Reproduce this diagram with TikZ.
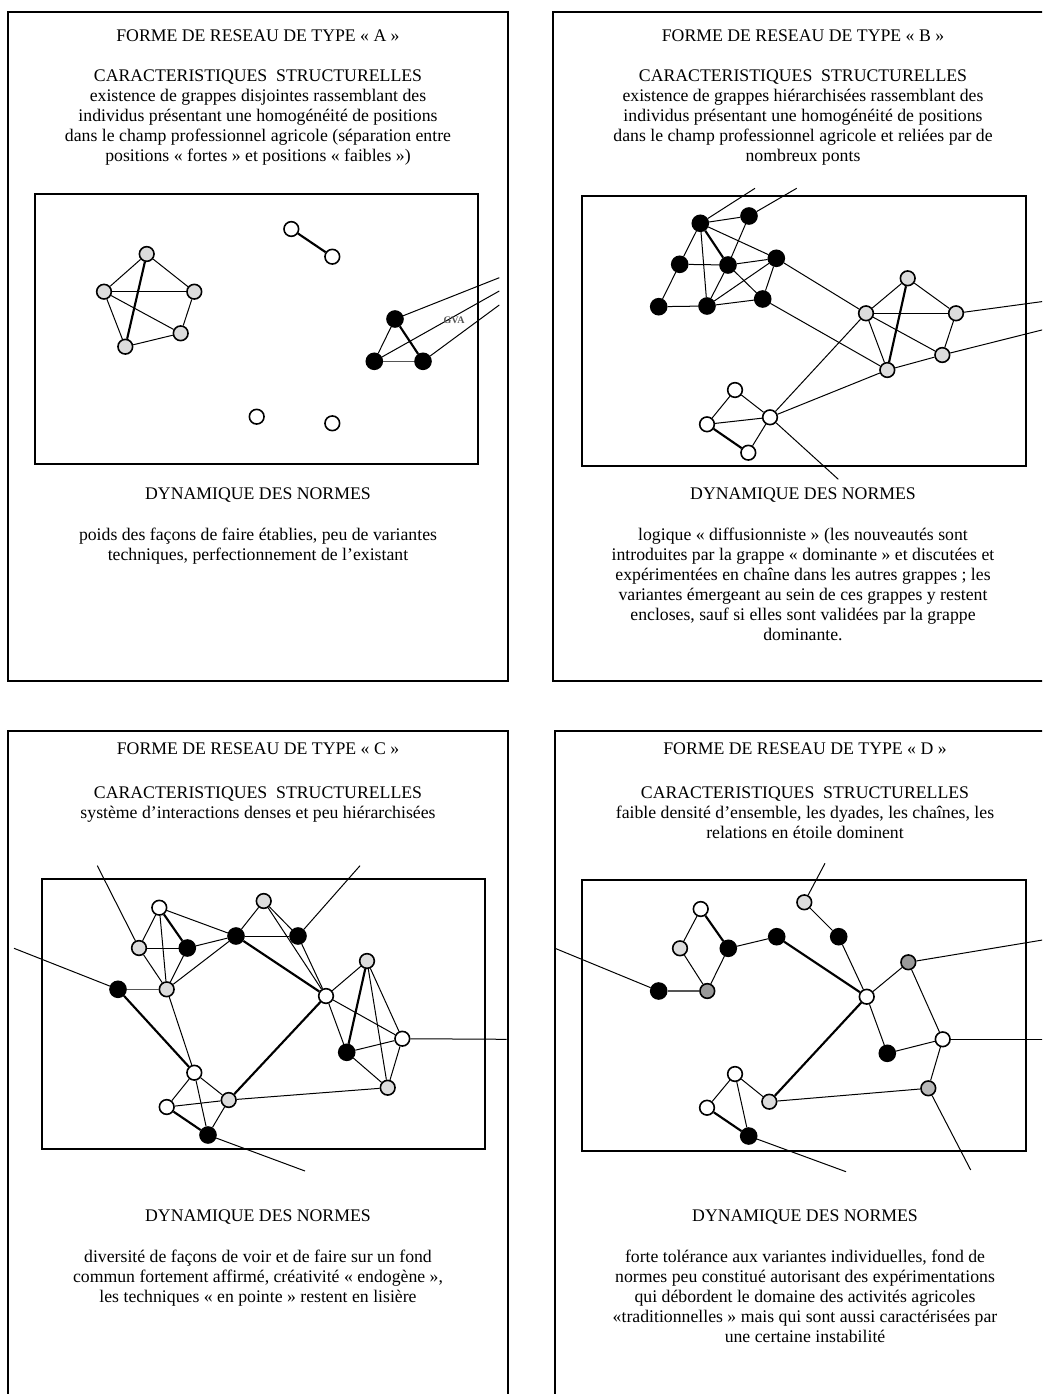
\documentclass[tikz,border=0pt]{standalone}
\usepackage{fontspec}
\setmainfont{Liberation Serif}
\definecolor{grisclair}{HTML}{DCDCDC}
\definecolor{grisfonce}{HTML}{9A9A9A}
\definecolor{grismoyen}{HTML}{B8B8B8}
\definecolor{traitgris}{HTML}{555555}

\begin{document}
\begin{tikzpicture}[x=0.75pt,y=-0.75pt]
            \tikzstyle{every node}+=[inner sep=0pt]
            \tikzstyle{sommet}=[circle, draw=black, line width=1.2pt, minimum size=11pt]
            \tikzstyle{blanc}=[sommet, fill=white]
            \tikzstyle{noir}=[sommet, fill=black, minimum size=12pt]
            \tikzstyle{gris}=[sommet, fill=grisclair]
            \tikzstyle{grisf}=[sommet, fill=grisfonce]
            \tikzstyle{grism}=[sommet, fill=grismoyen]
            \tikzstyle{lien}=[line width=0.75pt]
            \tikzstyle{fort}=[line width=1.6pt]
            \tikzstyle{moyen}=[line width=1.1pt, draw=traitgris]
            \tikzstyle{cadre}=[line width=1.5pt]
            \tikzstyle{texte}=[align=center, anchor=north, font=\fontsize{13.3}{15}\selectfont]
            \path [use as bounding box, clip] (0,0) rectangle (1042,1394);
            % les quatre cadres
            \draw [cadre] (8,12) rectangle (508,681);
            \draw [cadre] (553,12) rectangle (1053,681);
            \draw [cadre] (8,731) rectangle (508,1400);
            \draw [cadre] (555,731) rectangle (1055,1400);
            \draw [cadre] (35,194) rectangle (478,464);
            \draw [cadre] (582,196) rectangle (1026,466);
            \draw [cadre] (42,879) rectangle (485,1149);
            \draw [cadre] (582,880) rectangle (1026,1151);
            % type A
            \node [texte] (titreA) at (258,27) {\strut FORME DE RESEAU DE TYPE « A »};
            \node [texte] (structA) at (258,67) {\strut CARACTERISTIQUES~~STRUCTURELLES\\
                existence de grappes disjointes rassemblant des\\
                individus présentant une homogénéité de positions\\
                dans le champ professionnel agricole (séparation entre\\
                positions « fortes » et positions « faibles »)};
            \node [texte] (dynA) at (258,485) {\strut DYNAMIQUE DES NORMES};
            \node [texte] (normesA) at (258,526) {\strut poids des façons de faire établies, peu de variantes\\
                techniques, perfectionnement de l’existant};
            \node [gris] (gA1) at (146.7,254) {};
            \node [gris] (gA2) at (104,291.7) {};
            \node [gris] (gA3) at (194.3,291.7) {};
            \node [gris] (gA4) at (180.7,333.3) {};
            \node [gris] (gA5) at (125.3,346.7) {};
            \node [blanc] (wA1) at (291.3,229) {};
            \node [blanc] (wA2) at (332.3,256.7) {};
            \node [blanc] (wA3) at (256.7,416.7) {};
            \node [blanc] (wA4) at (332.3,423.3) {};
            \node [noir] (nA1) at (395,319) {};
            \node [noir] (nA2) at (374.3,361.3) {};
            \node [noir] (nA3) at (423,361.3) {};
            \coordinate (oA1) at (499.3,277.7);
            \coordinate (oA2) at (499.3,291);
            \coordinate (oA3) at (499.3,305);
            \draw [lien] (gA1) -- (gA2);
            \draw [lien] (gA1) -- (gA3);
            \draw [fort] (gA1) -- (gA5);
            \draw [lien] (gA2) -- (gA3);
            \draw [lien] (gA2) -- (gA4);
            \draw [lien] (gA2) -- (gA5);
            \draw [lien] (gA3) -- (gA4);
            \draw [lien] (gA4) -- (gA5);
            \draw [fort] (wA1) -- (wA2);
            \draw [lien] (nA1) -- (nA2);
            \draw [fort] (nA1) -- (nA3);
            \draw [moyen] (nA2) -- (nA3);
            \draw [lien] (nA1) -- (oA1);
            \draw [lien] (nA2) -- (oA2);
            \draw [lien] (nA3) -- (oA3);
            \node [font=\fontsize{7.5}{8}\selectfont\bfseries, text=traitgris] (gva) at (454,320) {GVA};
            % type B
            \node [texte] (titreB) at (803,27) {\strut FORME DE RESEAU DE TYPE « B »};
            \node [texte] (structB) at (803,67) {\strut CARACTERISTIQUES~~STRUCTURELLES\\
                existence de grappes hiérarchisées rassemblant des\\
                individus présentant une homogénéité de positions\\
                dans le champ professionnel agricole et reliées par de\\
                nombreux ponts};
            \node [texte] (dynB) at (803,485) {\strut DYNAMIQUE DES NORMES};
            \node [texte] (normesB) at (803,526) {\strut logique « diffusionniste » (les nouveautés sont\\
                introduites par la grappe « dominante » et discutées et\\
                expérimentées en chaîne dans les autres grappes ; les\\
                variantes émergeant au sein de ces grappes y restent\\
                encloses, sauf si elles sont validées par la grappe\\
                dominante.};
            \node [noir] (nB1) at (700.3,223.3) {};
            \node [noir] (nB2) at (749,216) {};
            \node [noir] (nB3) at (679.7,264.3) {};
            \node [noir] (nB4) at (728,265) {};
            \node [noir] (nB5) at (776.3,258.3) {};
            \node [noir] (nB6) at (658.7,306.7) {};
            \node [noir] (nB7) at (707,306) {};
            \node [noir] (nB8) at (762.7,299) {};
            \node [gris] (gB1) at (866,313.3) {};
            \node [gris] (gB2) at (907.7,278.3) {};
            \node [gris] (gB3) at (956,313.3) {};
            \node [gris] (gB4) at (887.3,370) {};
            \node [gris] (gB5) at (942.3,355) {};
            \node [blanc] (wB1) at (735,390) {};
            \node [blanc] (wB2) at (707,424.3) {};
            \node [blanc] (wB3) at (770,417.3) {};
            \node [blanc] (wB4) at (748.3,452.7) {};
            \coordinate (oB1) at (755,188.3);
            \coordinate (oB2) at (796.7,188.3);
            \coordinate (oB3) at (1045,301.2);
            \coordinate (oB4) at (1045,329.2);
            \coordinate (oB5) at (838.3,479.3);
            \draw [lien] (nB1) -- (oB1);
            \draw [lien] (nB2) -- (oB2);
            \draw [lien] (nB1) -- (nB2);
            \draw [lien] (nB1) -- (nB3);
            \draw [fort] (nB1) -- (nB4);
            \draw [lien] (nB1) -- (nB5);
            \draw [lien] (nB1) -- (nB7);
            \draw [lien] (nB2) -- (nB4);
            \draw [lien] (nB3) -- (nB4);
            \draw [lien] (nB3) -- (nB6);
            \draw [lien] (nB4) -- (nB5);
            \draw [lien] (nB4) -- (nB7);
            \draw [lien] (nB4) -- (nB8);
            \draw [lien] (nB6) -- (nB7);
            \draw [lien] (nB7) -- (nB5);
            \draw [lien] (nB7) -- (nB8);
            \draw [lien] (nB5) -- (nB8);
            \draw [lien] (nB5) -- (gB1);
            \draw [lien] (nB8) -- (gB4);
            \draw [lien] (gB1) -- (gB2);
            \draw [lien] (gB2) -- (gB3);
            \draw [lien] (gB1) -- (gB3);
            \draw [fort] (gB2) -- (gB4);
            \draw [lien] (gB1) -- (gB4);
            \draw [lien] (gB1) -- (gB5);
            \draw [lien] (gB3) -- (gB5);
            \draw [lien] (gB4) -- (gB5);
            \draw [lien] (gB3) -- (oB3);
            \draw [lien] (gB5) -- (oB4);
            \draw [lien] (wB1) -- (wB2);
            \draw [lien] (wB1) -- (wB3);
            \draw [lien] (wB2) -- (wB3);
            \draw [fort] (wB2) -- (wB4);
            \draw [lien] (wB3) -- (wB4);
            \draw [lien] (wB3) -- (gB1);
            \draw [lien] (wB3) -- (gB4);
            \draw [lien] (wB3) -- (oB5);
            % type C
            \node [texte] (titreC) at (258,740) {\strut FORME DE RESEAU DE TYPE « C »};
            \node [texte] (structC) at (258,784) {\strut CARACTERISTIQUES~~STRUCTURELLES\\
                système d’interactions denses et peu hiérarchisées};
            \node [texte] (dynC) at (258,1207) {\strut DYNAMIQUE DES NORMES};
            \node [texte] (normesC) at (258,1248) {\strut diversité de façons de voir et de faire sur un fond\\
                commun fortement affirmé, créativité « endogène »,\\
                les techniques « en pointe » restent en lisière};
            \node [blanc] (wC1) at (159.3,907.7) {};
            \node [gris] (gC1) at (139,948) {};
            \node [noir] (nC1) at (187.3,948) {};
            \node [noir] (nC2) at (236,936) {};
            \node [gris] (gC2) at (263.7,901) {};
            \node [noir] (nC3) at (298,936) {};
            \node [noir] (nC4) at (118,989.3) {};
            \node [gris] (gC3) at (166.7,989.3) {};
            \node [blanc] (wC2) at (326,996) {};
            \node [gris] (gC4) at (367,961) {};
            \node [blanc] (wC3) at (402.3,1038.7) {};
            \node [noir] (nC5) at (346.7,1052.3) {};
            \node [gris] (gC5) at (387.7,1087.7) {};
            \node [blanc] (wC4) at (194.3,1072.7) {};
            \node [blanc] (wC5) at (166.7,1107) {};
            \node [gris] (gC6) at (228.7,1100) {};
            \node [noir] (nC6) at (208,1135) {};
            \coordinate (oC1) at (97.3,865.7);
            \coordinate (oC2) at (14,948.3);
            \coordinate (oC3) at (360,865.7);
            \coordinate (oC4) at (506.7,1039.3);
            \coordinate (oC5) at (305,1171);
            \draw [lien] (oC1) -- (gC1);
            \draw [lien] (oC2) -- (nC4);
            \draw [lien] (oC3) -- (nC3);
            \draw [lien] (wC3) -- (oC4);
            \draw [lien] (nC6) -- (oC5);
            \draw [lien] (wC1) -- (gC1);
            \draw [fort] (wC1) -- (nC1);
            \draw [lien] (wC1) -- (gC3);
            \draw [lien] (wC1) -- (nC2);
            \draw [lien] (gC1) -- (nC1);
            \draw [lien] (gC1) -- (gC3);
            \draw [lien] (nC1) -- (nC2);
            \draw [lien] (nC1) -- (gC3);
            \draw [lien] (nC2) -- (gC3);
            \draw [lien] (nC2) -- (gC2);
            \draw [lien] (nC2) -- (nC3);
            \draw [fort] (nC2) -- (wC2);
            \draw [lien] (gC2) -- (wC2);
            \draw [lien] (gC2) -- (nC3);
            \draw [lien] (nC3) -- (wC2);
            \draw [lien] (wC2) -- (nC5);
            \draw [moyen] (nC4) -- (gC3);
            \draw [fort] (nC4) -- (wC4);
            \draw [lien] (gC3) -- (wC4);
            \draw [lien] (wC2) -- (gC4);
            \draw [lien] (wC2) -- (wC3);
            \draw [fort] (wC2) -- (gC6);
            \draw [fort] (gC4) -- (nC5);
            \draw [lien] (gC4) -- (wC3);
            \draw [lien] (gC4) -- (gC5);
            \draw [lien] (nC5) -- (wC3);
            \draw [lien] (nC5) -- (gC5);
            \draw [lien] (wC3) -- (gC5);
            \draw [lien] (wC4) -- (wC5);
            \draw [lien] (wC4) -- (gC6);
            \draw [lien] (wC4) -- (nC6);
            \draw [lien] (wC5) -- (gC6);
            \draw [fort] (wC5) -- (nC6);
            \draw [lien] (gC6) -- (nC6);
            \draw [lien] (gC6) -- (gC5);
            % type D
            \node [texte] (titreD) at (805,740) {\strut FORME DE RESEAU DE TYPE « D »};
            \node [texte] (structD) at (805,784) {\strut CARACTERISTIQUES~~STRUCTURELLES\\
                faible densité d’ensemble, les dyades, les chaînes, les\\
                relations en étoile dominent};
            \node [texte] (dynD) at (805,1207) {\strut DYNAMIQUE DES NORMES};
            \node [texte] (normesD) at (805,1248) {\strut forte tolérance aux variantes individuelles, fond de\\
                normes peu constitué autorisant des expérimentations\\
                qui débordent le domaine des activités agricoles\\
                «traditionnelles » mais qui sont aussi caractérisées par\\
                une certaine instabilité};
            \node [blanc] (wD1) at (700.7,909) {};
            \node [gris] (gD1) at (680,948.3) {};
            \node [noir] (nD1) at (728.3,948.3) {};
            \node [noir] (nD2) at (776.7,936.7) {};
            \node [gris] (gD2) at (804.3,902.3) {};
            \node [noir] (nD3) at (838.7,936.7) {};
            \node [noir] (nD4) at (658.7,991) {};
            \node [grisf] (fD1) at (707.3,991) {};
            \node [blanc] (wD2) at (866.7,996.7) {};
            \node [grisf] (fD2) at (908.3,962.3) {};
            \node [blanc] (wD3) at (942.7,1039.3) {};
            \node [noir] (nD5) at (887.3,1053.3) {};
            \node [grism] (mD1) at (928.3,1088.3) {};
            \node [blanc] (wD4) at (735,1074) {};
            \node [blanc] (wD5) at (707,1107.7) {};
            \node [gris] (gD3) at (769.3,1101.7) {};
            \node [noir] (nD6) at (748.7,1136) {};
            \coordinate (oD1) at (825,863.3);
            \coordinate (oD2) at (555,948.3);
            \coordinate (oD3) at (1045,939.6);
            \coordinate (oD4) at (1045,1039.3);
            \coordinate (oD5) at (846,1171.7);
            \coordinate (oD6) at (970.7,1170);
            \draw [lien] (oD1) -- (gD2);
            \draw [lien] (oD2) -- (nD4);
            \draw [lien] (fD2) -- (oD3);
            \draw [lien] (wD3) -- (oD4);
            \draw [lien] (nD6) -- (oD5);
            \draw [lien] (mD1) -- (oD6);
            \draw [lien] (wD1) -- (gD1);
            \draw [fort] (wD1) -- (nD1);
            \draw [lien] (gD1) -- (fD1);
            \draw [lien] (nD1) -- (fD1);
            \draw [lien] (nD1) -- (nD2);
            \draw [moyen] (nD4) -- (fD1);
            \draw [fort] (nD2) -- (wD2);
            \draw [lien] (gD2) -- (nD3);
            \draw [lien] (nD3) -- (wD2);
            \draw [lien] (wD2) -- (nD5);
            \draw [lien] (wD2) -- (fD2);
            \draw [fort] (wD2) -- (gD3);
            \draw [lien] (fD2) -- (wD3);
            \draw [lien] (nD5) -- (wD3);
            \draw [lien] (wD3) -- (mD1);
            \draw [lien] (wD4) -- (wD5);
            \draw [lien] (wD4) -- (gD3);
            \draw [lien] (wD4) -- (nD6);
            \draw [fort] (wD5) -- (nD6);
            \draw [lien] (gD3) -- (mD1);
\end{tikzpicture}
\end{document}
